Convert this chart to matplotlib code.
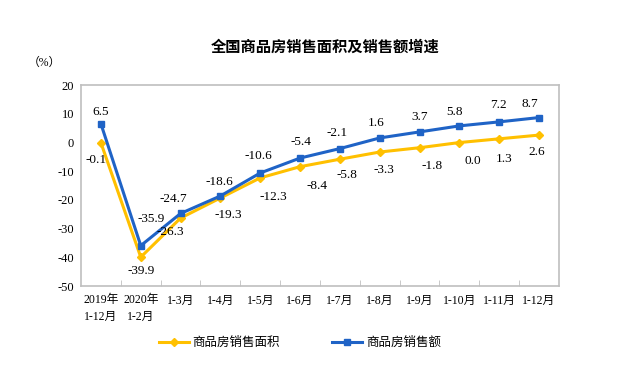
import matplotlib
matplotlib.use('Agg')
import matplotlib.pyplot as plt

plt.rcParams['font.family'] = ['Liberation Serif', 'Noto Sans CJK SC']
plt.rcParams['axes.unicode_minus'] = False

categories = ['2019年\n1-12月', '2020年\n1-2月', '1-3月', '1-4月', '1-5月', '1-6月',
              '1-7月', '1-8月', '1-9月', '1-10月', '1-11月', '1-12月']
area = [-0.1, -39.9, -26.3, -19.3, -12.3, -8.4, -5.8, -3.3, -1.8, 0.0, 1.3, 2.6]
sales = [6.5, -35.9, -24.7, -18.6, -10.6, -5.4, -2.1, 1.6, 3.7, 5.8, 7.2, 8.7]
area_labels = ['-0.1', '-39.9', '-26.3', '-19.3', '-12.3', '-8.4', '-5.8', '-3.3',
               '-1.8', '0.0', '1.3', '2.6']
sales_labels = ['6.5', '-35.9', '-24.7', '-18.6', '-10.6', '-5.4', '-2.1', '1.6',
                '3.7', '5.8', '7.2', '8.7']

yellow = '#FFC000'
blue = '#1F63C6'

fig = plt.figure(figsize=(6.38, 3.8), dpi=100)
ax = fig.add_axes([0.127, 0.247, 0.749, 0.529])

x = list(range(len(categories)))
ax.plot(x, area, color=yellow, lw=2.2, marker='D', ms=4.5, label='商品房销售面积')
ax.plot(x, sales, color=blue, lw=2.2, marker='s', ms=4.5, label='商品房销售额')

# label offsets in pixels (dx, dy), as placed in the original
off_sales = [(0, 12), (10, 27), (-7, 14), (-1, 14), (-2, 17), (1, 16),
             (-3, 16), (-4, 15), (0, 15), (-5, 14), (-1, 17), (-9, 14)]
off_area = [(-5, -17), (0, -14), (-10, -14), (8, -17), (13, -19), (17, -19),
            (7, -16), (4, -18), (13, -18), (13, -18), (5, -20), (-2, -17)]
for i, v in enumerate(sales):
    ax.annotate(sales_labels[i], (i, v), xytext=off_sales[i], textcoords='offset pixels',
                ha='center', va='center', fontsize=9.5)
for i, v in enumerate(area):
    ax.annotate(area_labels[i], (i, v), xytext=off_area[i], textcoords='offset pixels',
                ha='center', va='center', fontsize=9.5)

ax.set_xlim(-0.5, len(categories) - 0.5)
ax.set_ylim(-50, 20)
ax.set_yticks(range(-50, 21, 10))
ax.set_xticks(x)
ax.set_xticklabels(categories, fontsize=8.5, linespacing=1.5)
ax.set_xticks([i + 0.5 for i in range(len(categories) - 1)], minor=True)
ax.tick_params(axis='x', which='major', length=0, pad=6)
ax.tick_params(axis='x', which='minor', length=4, direction='in', color='#BFBFBF')
ax.tick_params(axis='y', length=0, labelsize=9, pad=5)
for lbl in ax.get_xticklabels():
    lbl.set_ha('center')

for s in ax.spines.values():
    s.set_color('#BFBFBF')
    s.set_linewidth(1.2)

fig.text(0.51, 0.877, '全国商品房销售面积及销售额增速', ha='center', va='center',
         fontsize=11, family=['Noto Sans CJK SC'], fontweight='bold')
fig.text(0.07, 0.835, '（%）', ha='center', va='center', fontsize=8.5)

leg = fig.legend(loc='center', bbox_to_anchor=(0.47, 0.097), ncol=2, frameon=False,
                 fontsize=9, columnspacing=4.2, handlelength=2.4, handletextpad=0.3)

fig.savefig('out.png', dpi=100)
